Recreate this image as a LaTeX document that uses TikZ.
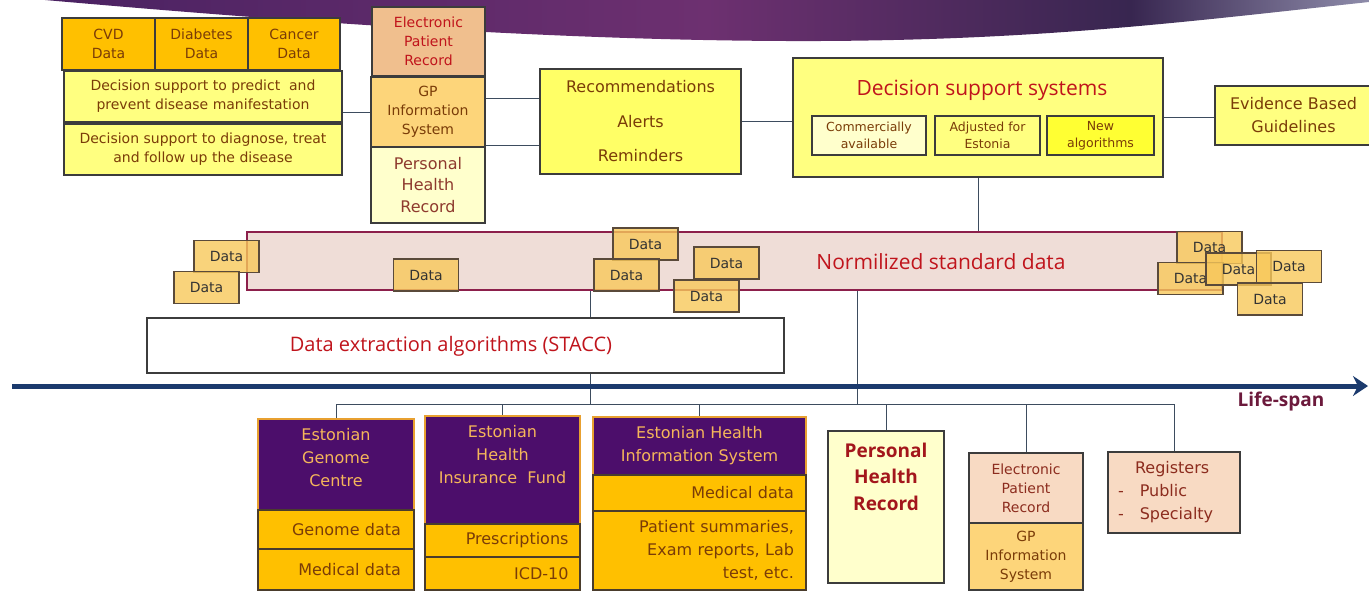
\documentclass[tikz,border=0pt]{standalone}
\usepackage{fontspec}
\setmainfont{DejaVu Sans}
\newfontfamily\headfont{Open Sans}
\usepackage{tikz}
\usetikzlibrary{positioning}
\usetikzlibrary{calc}
\usetikzlibrary{arrows.meta}

\definecolor{goldF}{HTML}{FFC000}
\definecolor{yelF}{HTML}{FFFF80}
\definecolor{yelB}{HTML}{FFFF66}
\definecolor{yelN}{HTML}{FFFF33}
\definecolor{paleF}{HTML}{FFFFCC}
\definecolor{peachF}{HTML}{F0BF8E}
\definecolor{peachL}{HTML}{F8DAC3}
\definecolor{gpF}{HTML}{FDD57A}
\definecolor{bandF}{HTML}{EFDDD7}
\definecolor{bandL}{HTML}{8C1F4B}
\definecolor{dataF}{HTML}{F8C85A}
\definecolor{dataL}{HTML}{5A4A3A}
\definecolor{purpleF}{HTML}{4C0E6B}
\definecolor{goldL}{HTML}{E8A030}
\definecolor{headT}{HTML}{F5B65A}
\definecolor{edgeC}{HTML}{3C3C3C}
\definecolor{cellC}{HTML}{4A3C2C}
\definecolor{linkC}{HTML}{3D4C5E}
\definecolor{axisC}{HTML}{1B3A6D}
\definecolor{brownT}{HTML}{7A3C08}
\definecolor{redT}{HTML}{C0141C}
\definecolor{redD}{HTML}{A3161C}
\definecolor{phrT}{HTML}{8E3A2E}
\definecolor{brownR}{HTML}{8C2C1E}
\definecolor{lifeC}{HTML}{6C1A3C}
\definecolor{swA}{HTML}{4A2262}
\definecolor{swB}{HTML}{6D3070}
\definecolor{swC}{HTML}{382650}
\definecolor{swD}{HTML}{8E8CAA}

\pgfdeclarehorizontalshading{swoosh}{100bp}{color(0bp)=(swA); color(25bp)=(swA); color(50bp)=(swB); color(66bp)=(swC); color(75bp)=(swD); color(100bp)=(swD)}

\begin{document}
\begin{tikzpicture}
    [
    x=1pt, y=-1pt,
    box/.style={draw=edgeC,line width=1.1pt,inner sep=0pt,align=center,text=brownT,font=\fontsize{14}{19}\selectfont},
    cell/.style={box,draw=cellC,fill=goldF,align=right,font=\fontsize{16}{23}\selectfont},
    head/.style={box,draw=goldL,fill=purpleF,text=headT,font=\fontsize{16}{23}\selectfont},
    headtext/.style={align=center,inner sep=0pt,text=headT,font=\fontsize{16}{23}\selectfont},
    databox/.style={box,draw=dataL,fill=dataF,fill opacity=0.8,text opacity=1,minimum width=65,minimum height=32,text=black!80},
    bigtext/.style={inner sep=0pt,text=redT,font=\headfont\fontsize{21}{26}\selectfont},
    link/.style={draw=linkC,line width=1pt},
    axis/.style={draw=axisC,line width=5pt,-{Stealth[length=15pt,width=20pt]}},
    ]
    \useasboundingbox (0,0) rectangle (1369,590);
    \clip (0,0) rectangle (1369,590);

    % banner
    \shade [shading=swoosh] (45,0) .. controls (250,18) and (550,42) .. (820,41)
      .. controls (1050,40) and (1200,20) .. (1369,2) -- (1369,-2) -- (45,-2) -- cycle;

    % top left
    \node (cvd) at (108.5,44) [box,fill=goldF,minimum width=93,minimum height=52] {CVD\\Data};
    \node (diab) at (201.5,44) [box,fill=goldF,minimum width=93,minimum height=52] {Diabetes\\Data};
    \node (canc) at (294,44) [box,fill=goldF,minimum width=92,minimum height=52] {Cancer\\Data};
    \node (pred) at (203,96.5) [box,fill=yelF,minimum width=278,minimum height=51] {Decision support to predict\ \ and\\prevent disease manifestation};
    \node (diag) at (203,149.5) [box,fill=yelF,minimum width=278,minimum height=51] {Decision support to diagnose, treat\\and follow up the disease};

    \node (eprt) at (428.5,41.5) [box,fill=peachF,text=redT,minimum width=113,minimum height=69] {Electronic\\Patient\\Record};
    \node (gpt) at (428,112) [box,fill=gpF,minimum width=114,minimum height=70] {GP\\Information\\System};
    \node (phrt) at (428,185) [box,fill=paleF,text=phrT,minimum width=114,minimum height=76,font=\fontsize{16}{21.5}\selectfont] {Personal\\Health\\Record};

    \node (recs) at (640.5,121.5) [box,fill=yelB,minimum width=201,minimum height=105,font=\fontsize{16}{20}\selectfont] {Recommendations\\[14.5pt]Alerts\\[14.5pt]Reminders};

    \node (dss) at (978,117.5) [box,fill=yelF,minimum width=370,minimum height=119] {};
    \node (dsst) at (982,90) [bigtext] {Decision support systems};
    \node (comm) at (869,135.5) [box,fill=paleF,minimum width=114,minimum height=39,font=\fontsize{12.5}{17}\selectfont] {Commercially\\available};
    \node (adj) at (987.5,135.5) [box,fill=yelF,minimum width=105,minimum height=39,font=\fontsize{12.5}{17}\selectfont] {Adjusted for\\Estonia};
    \node (newa) at (1100.5,135.5) [box,fill=yelN,minimum width=107,minimum height=39,font=\fontsize{12.5}{17}\selectfont] {New\\algorithms};
    \node (ebg) at (1293.5,115.5) [box,fill=yelF,minimum width=157,minimum height=59,font=\fontsize{16}{23}\selectfont] {Evidence Based\\Guidelines};

    % normalized data
    \node (band) at (734.5,261) [draw=bandL,line width=1.5pt,fill=bandF,inner sep=0pt,minimum width=975,minimum height=58] {};
    \node (bandt) at (941,262) [bigtext] {Normilized standard data};

    \node (d1) at (226.5,256.5) [databox] {Data};
    \node (d2) at (206.5,287.5) [databox] {Data};
    \node (d3) at (426,275) [databox] {Data};
    \node (d4) at (645.5,244) [databox] {Data};
    \node (d5) at (626.5,275) [databox] {Data};
    \node (d6) at (726.5,263) [databox] {Data};
    \node (d7) at (706.5,296) [databox] {Data};
    \node (d8) at (1209.5,247.5) [databox] {Data};
    \node (d9) at (1190.5,278.5) [databox] {Data};
    \node (d10) at (1238.5,269) [databox] {Data};
    \node (d11) at (1289,266.5) [databox] {Data};
    \node (d12) at (1270,299) [databox] {Data};

    % extraction
    \node (stacc) at (465.5,345.5) [box,fill=white,minimum width=637,minimum height=55] {};
    \node (stacct) at (451,346) [bigtext,font=\headfont\fontsize{20}{24}\selectfont] {Data extraction algorithms (STACC)};

    % links at the top
    \draw [link] (pred.east |- gpt.west) -- (gpt.west);
    \coordinate (g1) at ($(gpt.north east)!.31!(gpt.south east)$);
    \coordinate (g2) at ($(gpt.north east)!.97!(gpt.south east)$);
    \draw [link] (g1) -- (g1 -| recs.west);
    \draw [link] (g2) -- (g2 -| recs.west);
    \draw [link] (recs.east) -- (recs.east -| dss.west);
    \draw [link] (dss.east) -- (dss.east -| ebg.west);
    \draw [link] (dss.south) -- (dss.south |- band.north);

    % sources
    \node (egc) at (336,464.5) [head,minimum width=156,minimum height=91] {};
    \node (egct) [headtext,below=10pt of egc.north] {Estonian\\Genome\\Centre};
    \node (egcg) at (336,529.5) [cell,minimum width=156,minimum height=39,text width=130] {Genome data};
    \node (egcm) at (336,569.5) [cell,minimum width=156,minimum height=41,text width=130] {Medical data};

    \node (ehif) at (502.5,470) [head,minimum width=155,minimum height=108] {};
    \node (ehift) [headtext,below=10pt of ehif.north] {Estonian\\Health\\Insurance\ \ Fund};
    \node (ehifp) at (502.5,540.5) [cell,minimum width=155,minimum height=33,text width=132] {Prescriptions};
    \node (ehifi) at (502.5,573.5) [cell,minimum width=155,minimum height=33,text width=132] {ICD-10};

    \node (ehis) at (699.5,446) [head,minimum width=213,minimum height=58] {Estonian Health\\Information System};
    \node (ehism) at (699.5,493) [cell,minimum width=213,minimum height=36,text width=189] {Medical data};
    \node (ehisp) at (699.5,550.5) [cell,minimum width=213,minimum height=79,text width=189] {Patient summaries,\\Exam reports, Lab\\test, etc.};

    \node (phrb) at (886,507) [box,fill=paleF,minimum width=116,minimum height=152] {};
    \node (phrbt) [below=12pt of phrb.north,align=center,inner sep=0pt,text=redD,font=\headfont\bfseries\fontsize{19}{26.5}\selectfont] {Personal\\Health\\Record};

    \node (eprb) at (1026,488) [box,fill=peachL,text=brownR,minimum width=114,minimum height=70] {Electronic\\Patient\\Record};
    \node (gpb) at (1026,556.5) [box,fill=gpF,minimum width=114,minimum height=67] {GP\\Information\\System};
    \node (reg) at (1174,492.5) [box,fill=peachL,text=brownR,minimum width=132,minimum height=81,align=left,text width=112,font=\fontsize{16}{23}\selectfont] {\hspace*{17pt}Registers\\-\hspace{16pt}Public\\-\hspace{16pt}Specialty};

    % links at the bottom
    \coordinate (j1) at (590,404);
    \coordinate (j2) at (857,404);
    \draw [link] (j1 |- band.south) -- (j1 |- stacc.north);
    \draw [link] (j1 |- stacc.south) -- (j1);
    \draw [link] (j2 |- band.south) -- (j2);
    \draw [link] (egc.north |- j1) -- (reg.north |- j1);
    \draw [link] (egc.north |- j1) -- (egc.north);
    \draw [link] (ehif.north |- j1) -- (ehif.north);
    \draw [link] (ehis.north |- j1) -- (ehis.north);
    \draw [link] (phrb.north |- j1) -- (phrb.north);
    \draw [link] (eprb.north |- j1) -- (eprb.north);
    \draw [link] (reg.north |- j1) -- (reg.north);

    % life-span
    \coordinate (ax0) at (12,386);
    \coordinate (ax1) at (1368,386);
    \draw [axis] (ax0) -- (ax1);
    \node (life) at (1281,402) [inner sep=0pt,text=lifeC,font=\headfont\bfseries\fontsize{19}{24}\selectfont] {Life-span};
  \end{tikzpicture}
\end{document}
